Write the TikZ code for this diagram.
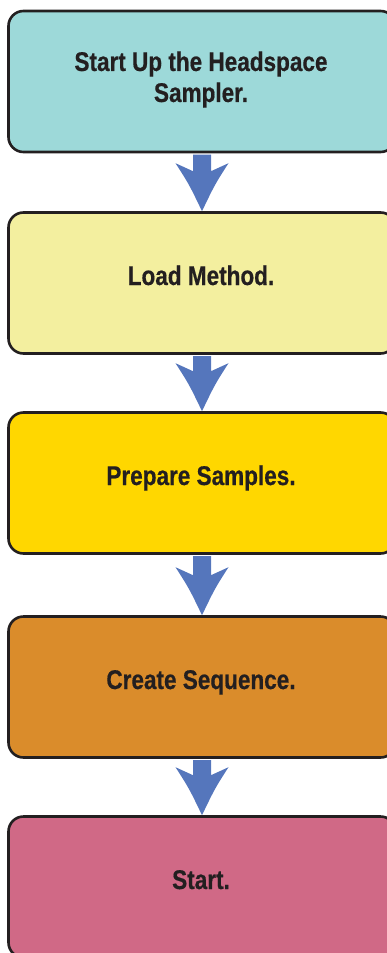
\documentclass[tikz,border=0pt]{standalone}
\usepackage{fontspec}
\setmainfont{Liberation Sans}[FakeStretch=0.835, BoldFeatures={FakeBold=0.5}]
\usetikzlibrary{calc}
\definecolor{edge}{HTML}{231F20}
\definecolor{ink}{HTML}{231F20}
\definecolor{cteal}{HTML}{9DD9D9}
\definecolor{cpale}{HTML}{F3EF9F}
\definecolor{cgold}{HTML}{FFD700}
\definecolor{corange}{HTML}{DA8C2B}
\definecolor{cpink}{HTML}{D06986}
\definecolor{arrowblue}{HTML}{5576BC}
\newcommand\flowarrow[2]{%
  \fill[flow] let \p1=(#1.south), \p2=(#2.north) in
    (\x1-9pt,\y1-1.4pt) -- (\x1-9pt,\y2+40pt) -- (\x1-26.5pt,\y2+48pt)
    .. controls (\x1-13pt,\y2+27pt) .. (\x1,\y2)
    .. controls (\x1+13pt,\y2+27pt) .. (\x1+26.5pt,\y2+48pt)
    -- (\x1+9pt,\y2+40pt) -- (\x1+9pt,\y1-1.4pt) -- cycle;}
\begin{document}
\begin{tikzpicture}[x=1pt,y=-1pt,
  stepbox/.style={draw=edge, line width=2.6pt, rounded corners=15pt,
    minimum width=387pt, minimum height=141pt, inner sep=0pt},
  lbl/.style={text=ink, font=\bfseries\fontsize{27}{31}\selectfont,
    align=center, inner sep=0pt},
  flow/.style={fill=arrowblue, draw=none}]
\useasboundingbox (0,0) rectangle (387,953);
\node[stepbox, fill=cteal]   (b1) at (202,81.5) {};
\node[stepbox, fill=cpale]   (b2) at (202,283)  {};
\node[stepbox, fill=cgold]   (b3) at (202,483)  {};
\node[stepbox, fill=corange] (b4) at (202,687)  {};
\node[stepbox, fill=cpink]   (b5) at (202,887)  {};
\node[lbl] (t1) at (201,79.5) {Start Up the Headspace\\Sampler.};
\node[lbl, anchor=base] (t2) at (201,285) {Load Method.};
\node[lbl, anchor=base] (t3) at (201,485) {Prepare Samples.};
\node[lbl, anchor=base] (t4) at (201,689) {Create Sequence.};
\node[lbl, anchor=base] (t5) at (201,889) {Start.};
\flowarrow{b1}{b2}
\flowarrow{b2}{b3}
\flowarrow{b3}{b4}
\flowarrow{b4}{b5}
\end{tikzpicture}
\end{document}
